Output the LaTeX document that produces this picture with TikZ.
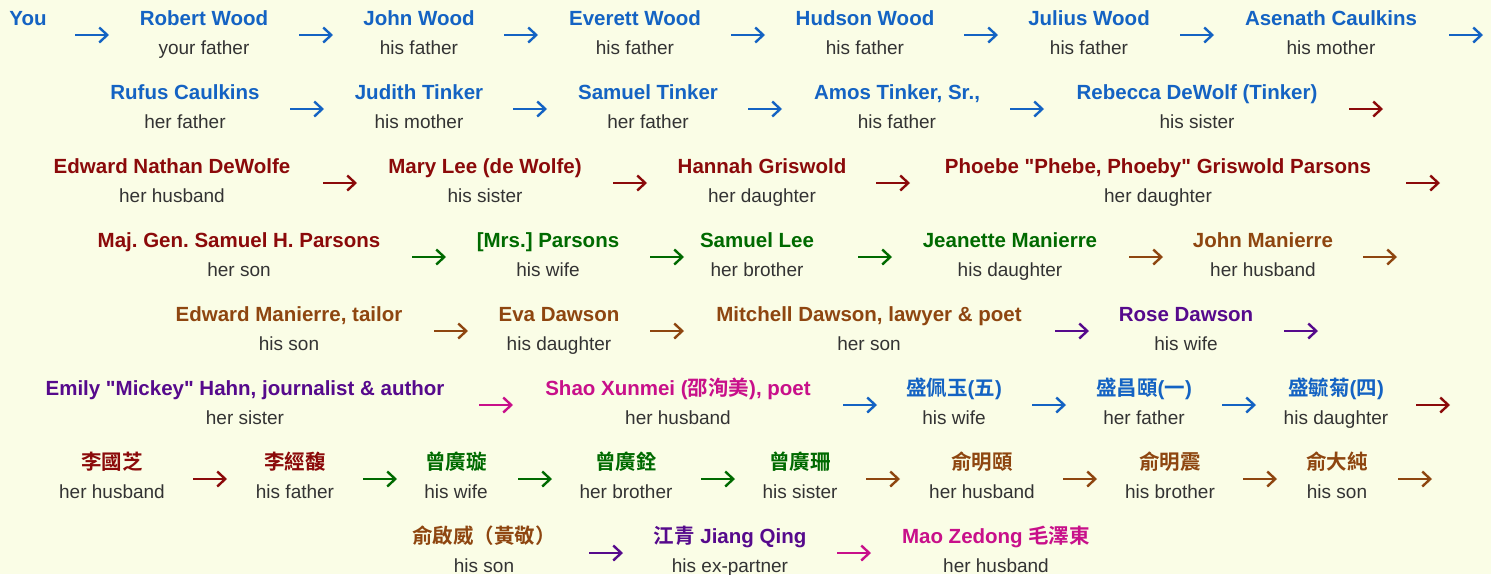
\documentclass[tikz,border=0pt]{standalone}
\usepackage{fontspec}
\setmainfont{Liberation Sans}
\newfontfamily\cjk{Noto Sans CJK TC}[BoldFont={Noto Sans CJK TC Bold}]
\usetikzlibrary{arrows.meta}
\frenchspacing

\definecolor{bg}{HTML}{FAFDE6}
\definecolor{txt}{HTML}{333333}
\definecolor{blu}{HTML}{1463C3}
\definecolor{dred}{HTML}{8B0A0A}
\definecolor{grn}{HTML}{006A00}
\definecolor{brn}{HTML}{8E4610}
\definecolor{vio}{HTML}{560A8C}
\definecolor{mag}{HTML}{C8108A}

\tikzset{
  nm/.style={anchor=base, inner sep=0pt, font=\fontsize{20.5}{24}\selectfont\bfseries},
  rl/.style={anchor=base, inner sep=0pt, text=txt, font=\fontsize{19}{22}\selectfont},
  tie/.style={line width=2.4pt, -{Straight Barb[length=8pt,width=15pt,line width=2.4pt]}},
}

\begin{document}
\begin{tikzpicture}[x=1pt,y=1pt]
\fill[bg] (0,0) rectangle (1491,-574);
\useasboundingbox (0,0) rectangle (1491,-574);

% Row 1
\foreach \x/\c/\n/\r [count=\i] in {28/blu/You/, 204/blu/Robert Wood/your father,
    419/blu/John Wood/his father, 635/blu/Everett Wood/his father,
    865/blu/Hudson Wood/his father, 1089/blu/Julius Wood/his father,
    1331/blu/Asenath Caulkins/his mother} {
    \node[nm,text=\c] (p1-\i) at (\x,-25) {\n};
    \node[rl] (q1-\i) at ([yshift=-29pt]p1-\i.base) {\r};
}
\foreach \x/\c [count=\i] in {92/blu,316/blu,521/blu,748/blu,981/blu,1197/blu,1466/blu} {
    \coordinate (t1-\i) at (\x,-35);
    \draw[tie,\c] ([xshift=-17pt]t1-\i) -- ([xshift=17pt]t1-\i);
}

% Row 2
\foreach \x/\c/\n/\r [count=\i] in {185/blu/Rufus Caulkins/her father,
    419/blu/Judith Tinker/his mother, 648/blu/Samuel Tinker/her father,
    897/blu/{Amos Tinker, Sr.,}/his father, 1197/blu/Rebecca DeWolf (Tinker)/his sister} {
    \node[nm,text=\c] (p2-\i) at (\x,-99) {\n};
    \node[rl] (q2-\i) at ([yshift=-29pt]p2-\i.base) {\r};
}
\foreach \x/\c [count=\i] in {307/blu,530/blu,765/blu,1027/blu,1366/dred} {
    \coordinate (t2-\i) at (\x,-109);
    \draw[tie,\c] ([xshift=-17pt]t2-\i) -- ([xshift=17pt]t2-\i);
}

% Row 3
\foreach \x/\c/\n/\r [count=\i] in {172/dred/Edward Nathan DeWolfe/her husband,
    485/dred/Mary Lee (de Wolfe)/his sister, 762/dred/Hannah Griswold/her daughter,
    1158/dred/{Phoebe \textquotedbl Phebe, Phoeby\textquotedbl{} Griswold Parsons}/her daughter} {
    \node[nm,text=\c] (p3-\i) at (\x,-173) {\n};
    \node[rl] (q3-\i) at ([yshift=-29pt]p3-\i.base) {\r};
}
\foreach \x/\c [count=\i] in {340/dred,630/dred,893/dred,1423/dred} {
    \coordinate (t3-\i) at (\x,-183);
    \draw[tie,\c] ([xshift=-17pt]t3-\i) -- ([xshift=17pt]t3-\i);
}

% Row 4
\foreach \x/\c/\n/\r [count=\i] in {239/dred/Maj. Gen. Samuel H. Parsons/her son,
    548/grn/[Mrs.] Parsons/his wife, 757/grn/Samuel Lee/her brother,
    1010/grn/Jeanette Manierre/his daughter, 1263/brn/John Manierre/her husband} {
    \node[nm,text=\c] (p4-\i) at (\x,-247) {\n};
    \node[rl] (q4-\i) at ([yshift=-29pt]p4-\i.base) {\r};
}
\foreach \x/\c [count=\i] in {429/grn,667/grn,875/grn,1146/brn,1380/brn} {
    \coordinate (t4-\i) at (\x,-257);
    \draw[tie,\c] ([xshift=-17pt]t4-\i) -- ([xshift=17pt]t4-\i);
}

% Row 5
\foreach \x/\c/\n/\r [count=\i] in {289/brn/{Edward Manierre, tailor}/his son,
    559/brn/Eva Dawson/his daughter, 869/brn/{Mitchell Dawson, lawyer \& poet}/her son,
    1186/vio/Rose Dawson/his wife} {
    \node[nm,text=\c] (p5-\i) at (\x,-321) {\n};
    \node[rl] (q5-\i) at ([yshift=-29pt]p5-\i.base) {\r};
}
\foreach \x/\c [count=\i] in {451/brn,667/brn,1072/vio,1301/vio} {
    \coordinate (t5-\i) at (\x,-331);
    \draw[tie,\c] ([xshift=-17pt]t5-\i) -- ([xshift=17pt]t5-\i);
}

% Row 6
\foreach \x/\c/\n/\r [count=\i] in {245/vio/{Emily \textquotedbl Mickey\textquotedbl{} Hahn, journalist \& author}/her sister,
    678/mag/{Shao Xunmei ({\cjk 邵洵美}), poet}/her husband,
    954/blu/{{\cjk 盛佩玉}({\cjk 五})}/his wife, 1144/blu/{{\cjk 盛昌頤}({\cjk 一})}/her father,
    1336/blu/{{\cjk 盛毓菊}({\cjk 四})}/his daughter} {
    \node[nm,text=\c] (p6-\i) at (\x,-395) {\n};
    \node[rl] (q6-\i) at ([yshift=-29pt]p6-\i.base) {\r};
}
\foreach \x/\c [count=\i] in {496/mag,860/blu,1049/blu,1239/blu,1433/dred} {
    \coordinate (t6-\i) at (\x,-405);
    \draw[tie,\c] ([xshift=-17pt]t6-\i) -- ([xshift=17pt]t6-\i);
}

% Row 7
\foreach \x/\c/\n/\r [count=\i] in {112/dred/李國芝/her husband, 295/dred/李經馥/his father,
    456/grn/曾廣璇/his wife, 626/grn/曾廣銓/her brother, 800/grn/曾廣珊/his sister,
    982/brn/俞明頤/her husband, 1170/brn/俞明震/his brother, 1337/brn/俞大純/his son} {
    \node[nm,text=\c] (p7-\i) at (\x,-469) {\cjk\n};
    \node[rl] (q7-\i) at ([yshift=-29pt]p7-\i.base) {\r};
}
\foreach \x/\c [count=\i] in {210/dred,380/grn,535/grn,718/grn,883/brn,1080/brn,1260/brn,1415/brn} {
    \coordinate (t7-\i) at (\x,-479);
    \draw[tie,\c] ([xshift=-17pt]t7-\i) -- ([xshift=17pt]t7-\i);
}

% Row 8
\foreach \x/\c/\n/\r [count=\i] in {484/brn/{{\cjk 俞啟威（黃敬）}}/his son,
    730/vio/{{\cjk 江青} Jiang Qing}/his ex-partner,
    996/mag/{Mao Zedong {\cjk 毛澤東}}/her husband} {
    \node[nm,text=\c] (p8-\i) at (\x,-543) {\n};
    \node[rl] (q8-\i) at ([yshift=-29pt]p8-\i.base) {\r};
}
\foreach \x/\c [count=\i] in {606/vio,854/mag} {
    \coordinate (t8-\i) at (\x,-553);
    \draw[tie,\c] ([xshift=-17pt]t8-\i) -- ([xshift=17pt]t8-\i);
}
\end{tikzpicture}
\end{document}
